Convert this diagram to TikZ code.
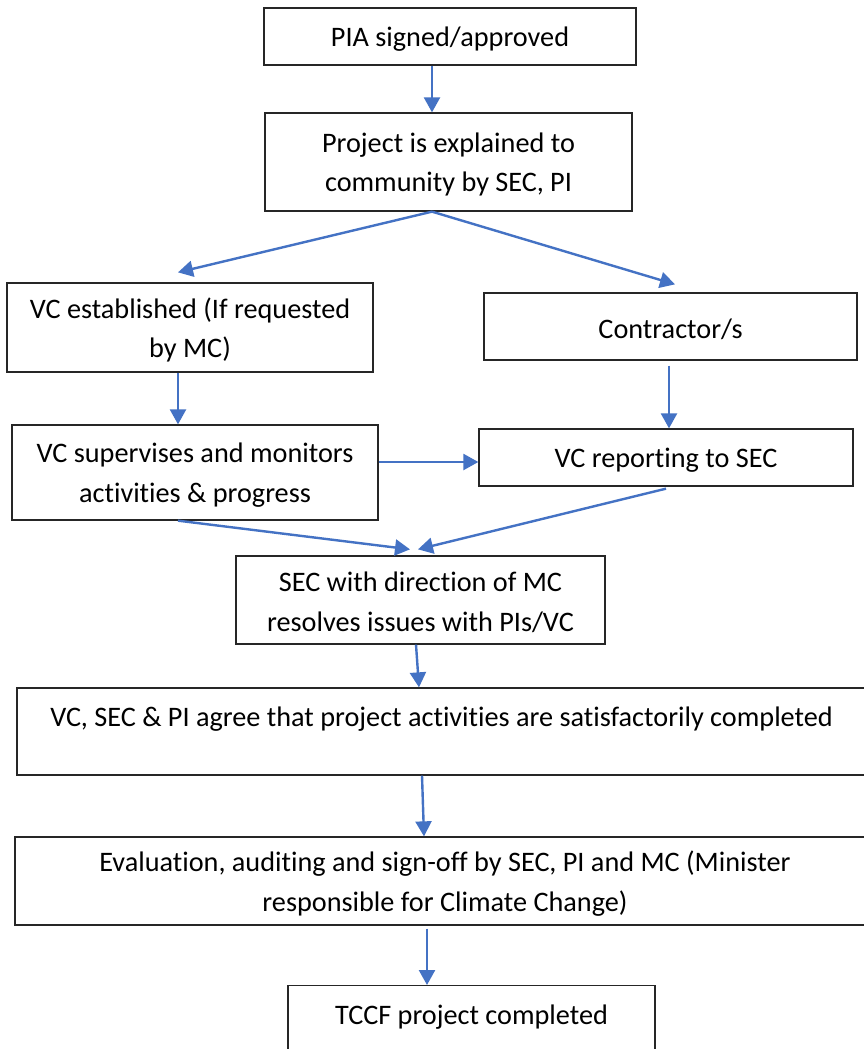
\documentclass[tikz,border=0pt]{standalone}
\usepackage{fontspec}
\setmainfont{Carlito}[Ligatures=NoCommon]
\usetikzlibrary{arrows.meta}
\definecolor{arrowblue}{RGB}{68,114,196}
\tikzset{
  box/.style={draw=black!85, line width=1.3pt, rectangle, inner sep=0pt},
  txt/.style={inner sep=0pt, align=center, yshift=-2.5pt, font=\fontsize{28.25}{39.5}\selectfont},
  flow/.style={draw=arrowblue, line width=2.4pt, -{Triangle[length=15pt,width=16pt]}}
}
\begin{document}
\begin{tikzpicture}[x=1pt,y=-1pt]
\clip (0,0) rectangle (864,1049);
\fill[white] (0,0) rectangle (864,1049);

\node[box, minimum width=372pt, minimum height=57pt, label={[txt]center:PIA signed/approved}] (n1) at (450,36.5) {};
\node[box, minimum width=367pt, minimum height=98pt, label={[txt]center:{Project is explained to\\community by SEC, PI}}] (n2) at (448.5,162) {};
\node[box, minimum width=366pt, minimum height=89pt, label={[txt]center:{VC established (If requested\\by MC)}}] (n3) at (190,327.5) {};
\node[box, minimum width=373pt, minimum height=67pt, label={[txt]center:Contractor/s}] (n4) at (670.5,326.5) {};
\node[box, minimum width=366pt, minimum height=95pt, label={[txt]center:{VC supervises and monitors\\activities \& progress}}] (n5) at (195,472.5) {};
\node[box, minimum width=374pt, minimum height=57pt, label={[txt]center:VC reporting to SEC}] (n6) at (666,457.5) {};
\node[box, minimum width=369pt, minimum height=88pt, label={[txt]center:{SEC with direction of MC\\resolves issues with PIs/VC}}] (n7) at (420.5,600) {};
\node[box, minimum width=849pt, minimum height=87pt, label={[txt,yshift=15pt]center:{VC, SEC \& PI agree that project activities are satisfactorily completed}}] (n8) at (441.5,731.5) {};
\node[box, minimum width=860pt, minimum height=88pt, label={[txt]center:{Evaluation, auditing and sign-off by SEC, PI and MC (Minister\\responsible for Climate Change)}}] (n9) at (445,881) {};
\node[box, minimum width=367pt, minimum height=120pt, anchor=north, label={[txt,yshift=31.5pt]center:TCCF project completed}] (n10) at (471.5,985) {};

\draw[flow] ([xshift=-18pt]n1.south) -- ([xshift=-16.5pt]n2.north);
\draw[flow] ([xshift=-16.5pt]n2.south) -- ([xshift=-12pt,yshift=10pt]n3.north);
\draw[flow] ([xshift=-16.5pt]n2.south) -- ([xshift=4.5pt,yshift=8pt]n4.north);
\draw[flow] ([xshift=-12pt]n3.south) -- ([xshift=-17pt]n5.north);
\draw[flow] ([xshift=-1.5pt,yshift=-5pt]n4.south) -- ([xshift=3pt]n6.north);
\draw[flow] ([yshift=10.5pt]n5.east) -- ([yshift=-4.5pt]n6.west);
\draw[flow] ([xshift=-17pt]n5.south) -- ([xshift=-10.5pt,yshift=6pt]n7.north);
\draw[flow] ([yshift=-2pt]n6.south) -- ([xshift=-2.5pt,yshift=6pt]n7.north);
\draw[flow] ([xshift=-4.5pt]n7.south) -- ([xshift=-22.5pt]n8.north);
\draw[flow] ([xshift=-19.5pt]n8.south) -- ([xshift=-21pt]n9.north);
\draw[flow] ([xshift=-18pt,yshift=-3pt]n9.south) -- ([xshift=-44.5pt]n10.north);
\end{tikzpicture}
\end{document}
